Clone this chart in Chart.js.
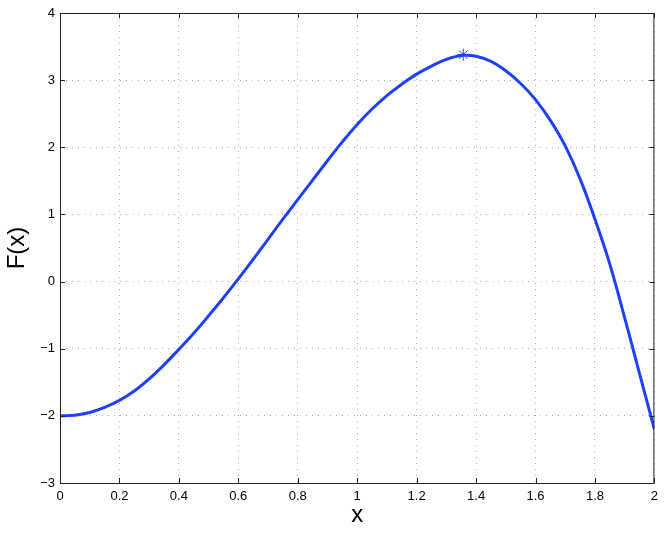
<!DOCTYPE html>
<html>
<head>
<meta charset="utf-8">
<script src="https://cdn.jsdelivr.net/npm/chart.js@4/dist/chart.umd.min.js"></script>
<style>
  html, body { margin: 0; padding: 0; background: #fff; }
  #wrap { width: 664px; height: 534px; }
</style>
</head>
<body>
<div id="wrap"><canvas id="fChart" width="664" height="534"></canvas></div>
<script>
// values
const xValues = [0, 0.05, 0.1, 0.15, 0.2, 0.25, 0.3, 0.35, 0.4, 0.45, 0.5, 0.55, 0.6, 0.65, 0.7, 0.75, 0.8, 0.85, 0.9, 0.95,
  1.0, 1.05, 1.1, 1.15, 1.2, 1.25, 1.3, 1.357, 1.4, 1.45, 1.5, 1.55, 1.6, 1.65, 1.7, 1.75, 1.8, 1.85, 1.9, 1.95, 2.0];
const fValues = [-2.0, -1.99, -1.95, -1.875, -1.77, -1.63, -1.45, -1.24, -1.01, -0.77, -0.51, -0.24, 0.04, 0.33, 0.63, 0.93, 1.22, 1.51, 1.8, 2.08,
  2.34, 2.57, 2.77, 2.94, 3.09, 3.21, 3.31, 3.37, 3.355, 3.28, 3.14, 2.95, 2.71, 2.4, 2.02, 1.53, 0.93, 0.26, -0.54, -1.37, -2.2];

// the maximum, marked with a star
const peakX = [1.357];
const peakY = [3.38];

const xTicks = [0, 0.2, 0.4, 0.6, 0.8, 1, 1.2, 1.4, 1.6, 1.8, 2];
const yTicks = [-3, -2, -1, 0, 1, 2, 3, 4];

const fontFamily = "'Liberation Sans', Arial, Helvetica, sans-serif";
const lineBlue = '#2040ff';

// box around the plot plus inward tick marks on all four sides
const boxPlugin = {
  id: 'matlabBox',
  afterDraw(chart) {
    const { ctx, chartArea: a, scales } = chart;
    ctx.save();
    ctx.strokeStyle = '#222';
    ctx.lineWidth = 1;
    ctx.strokeRect(a.left + 0.5, a.top + 0.5, a.right - a.left - 1, a.bottom - a.top);
    const len = 5;
    ctx.beginPath();
    xTicks.forEach(v => {
      const px = Math.round(scales.x.getPixelForValue(v)) + 0.5;
      ctx.moveTo(px, a.bottom); ctx.lineTo(px, a.bottom - len);
      ctx.moveTo(px, a.top); ctx.lineTo(px, a.top + len);
    });
    yTicks.forEach(v => {
      const py = Math.round(scales.y.getPixelForValue(v)) + 0.5;
      ctx.moveTo(a.left, py); ctx.lineTo(a.left + len, py);
      ctx.moveTo(a.right, py); ctx.lineTo(a.right - len, py);
    });
    ctx.stroke();
    ctx.restore();
  }
};

const fmt = v => (v < 0 ? '\u2212' : '') + Math.abs(+v.toFixed(1));

new Chart(document.getElementById('fChart'), {
  type: 'scatter',
  data: {
    datasets: [
      {
        data: xValues.map((x, i) => ({ x, y: fValues[i] })),
        showLine: true,
        borderColor: lineBlue,
        borderWidth: 3,
        pointRadius: 0,
        tension: 0.4,
        order: 2
      },
      {
        data: peakX.map((x, i) => ({ x, y: peakY[i] })),
        showLine: false,
        pointStyle: 'star',
        pointRadius: 6,
        borderColor: lineBlue,
        backgroundColor: lineBlue,
        borderWidth: 1,
        order: 1
      }
    ]
  },
  options: {
    responsive: false,
    animation: false,
    layout: { padding: { left: 0, top: 13, right: 8, bottom: 0 } },
    plugins: { legend: { display: false }, tooltip: { enabled: false } },
    scales: {
      x: {
        type: 'linear',
        min: 0,
        max: 2,
        afterBuildTicks: s => { s.ticks = xTicks.map(value => ({ value })); },
        afterFit: s => { s.height = 51; },
        grid: { color: '#a8a8a8', lineWidth: 1, drawTicks: false },
        border: { display: false, dash: [1, 5] },
        ticks: { color: '#000', padding: 6, font: { family: fontFamily, size: 13 }, callback: fmt, maxRotation: 0 },
        title: { display: true, text: 'x', color: '#000', font: { family: fontFamily, size: 24 }, padding: { top: 0, bottom: 4 } }
      },
      y: {
        type: 'linear',
        min: -3,
        max: 4,
        afterBuildTicks: s => { s.ticks = yTicks.map(value => ({ value })); },
        afterFit: s => { s.width = 60; },
        grid: { color: '#a8a8a8', lineWidth: 1, drawTicks: false },
        border: { display: false, dash: [1, 5] },
        ticks: { color: '#000', padding: 5, font: { family: fontFamily, size: 13 }, callback: fmt },
        title: { display: true, text: 'F(x)', color: '#000', font: { family: fontFamily, size: 24 }, padding: { top: 3, bottom: 0 } }
      }
    }
  },
  plugins: [boxPlugin]
});
</script>
</body>
</html>
